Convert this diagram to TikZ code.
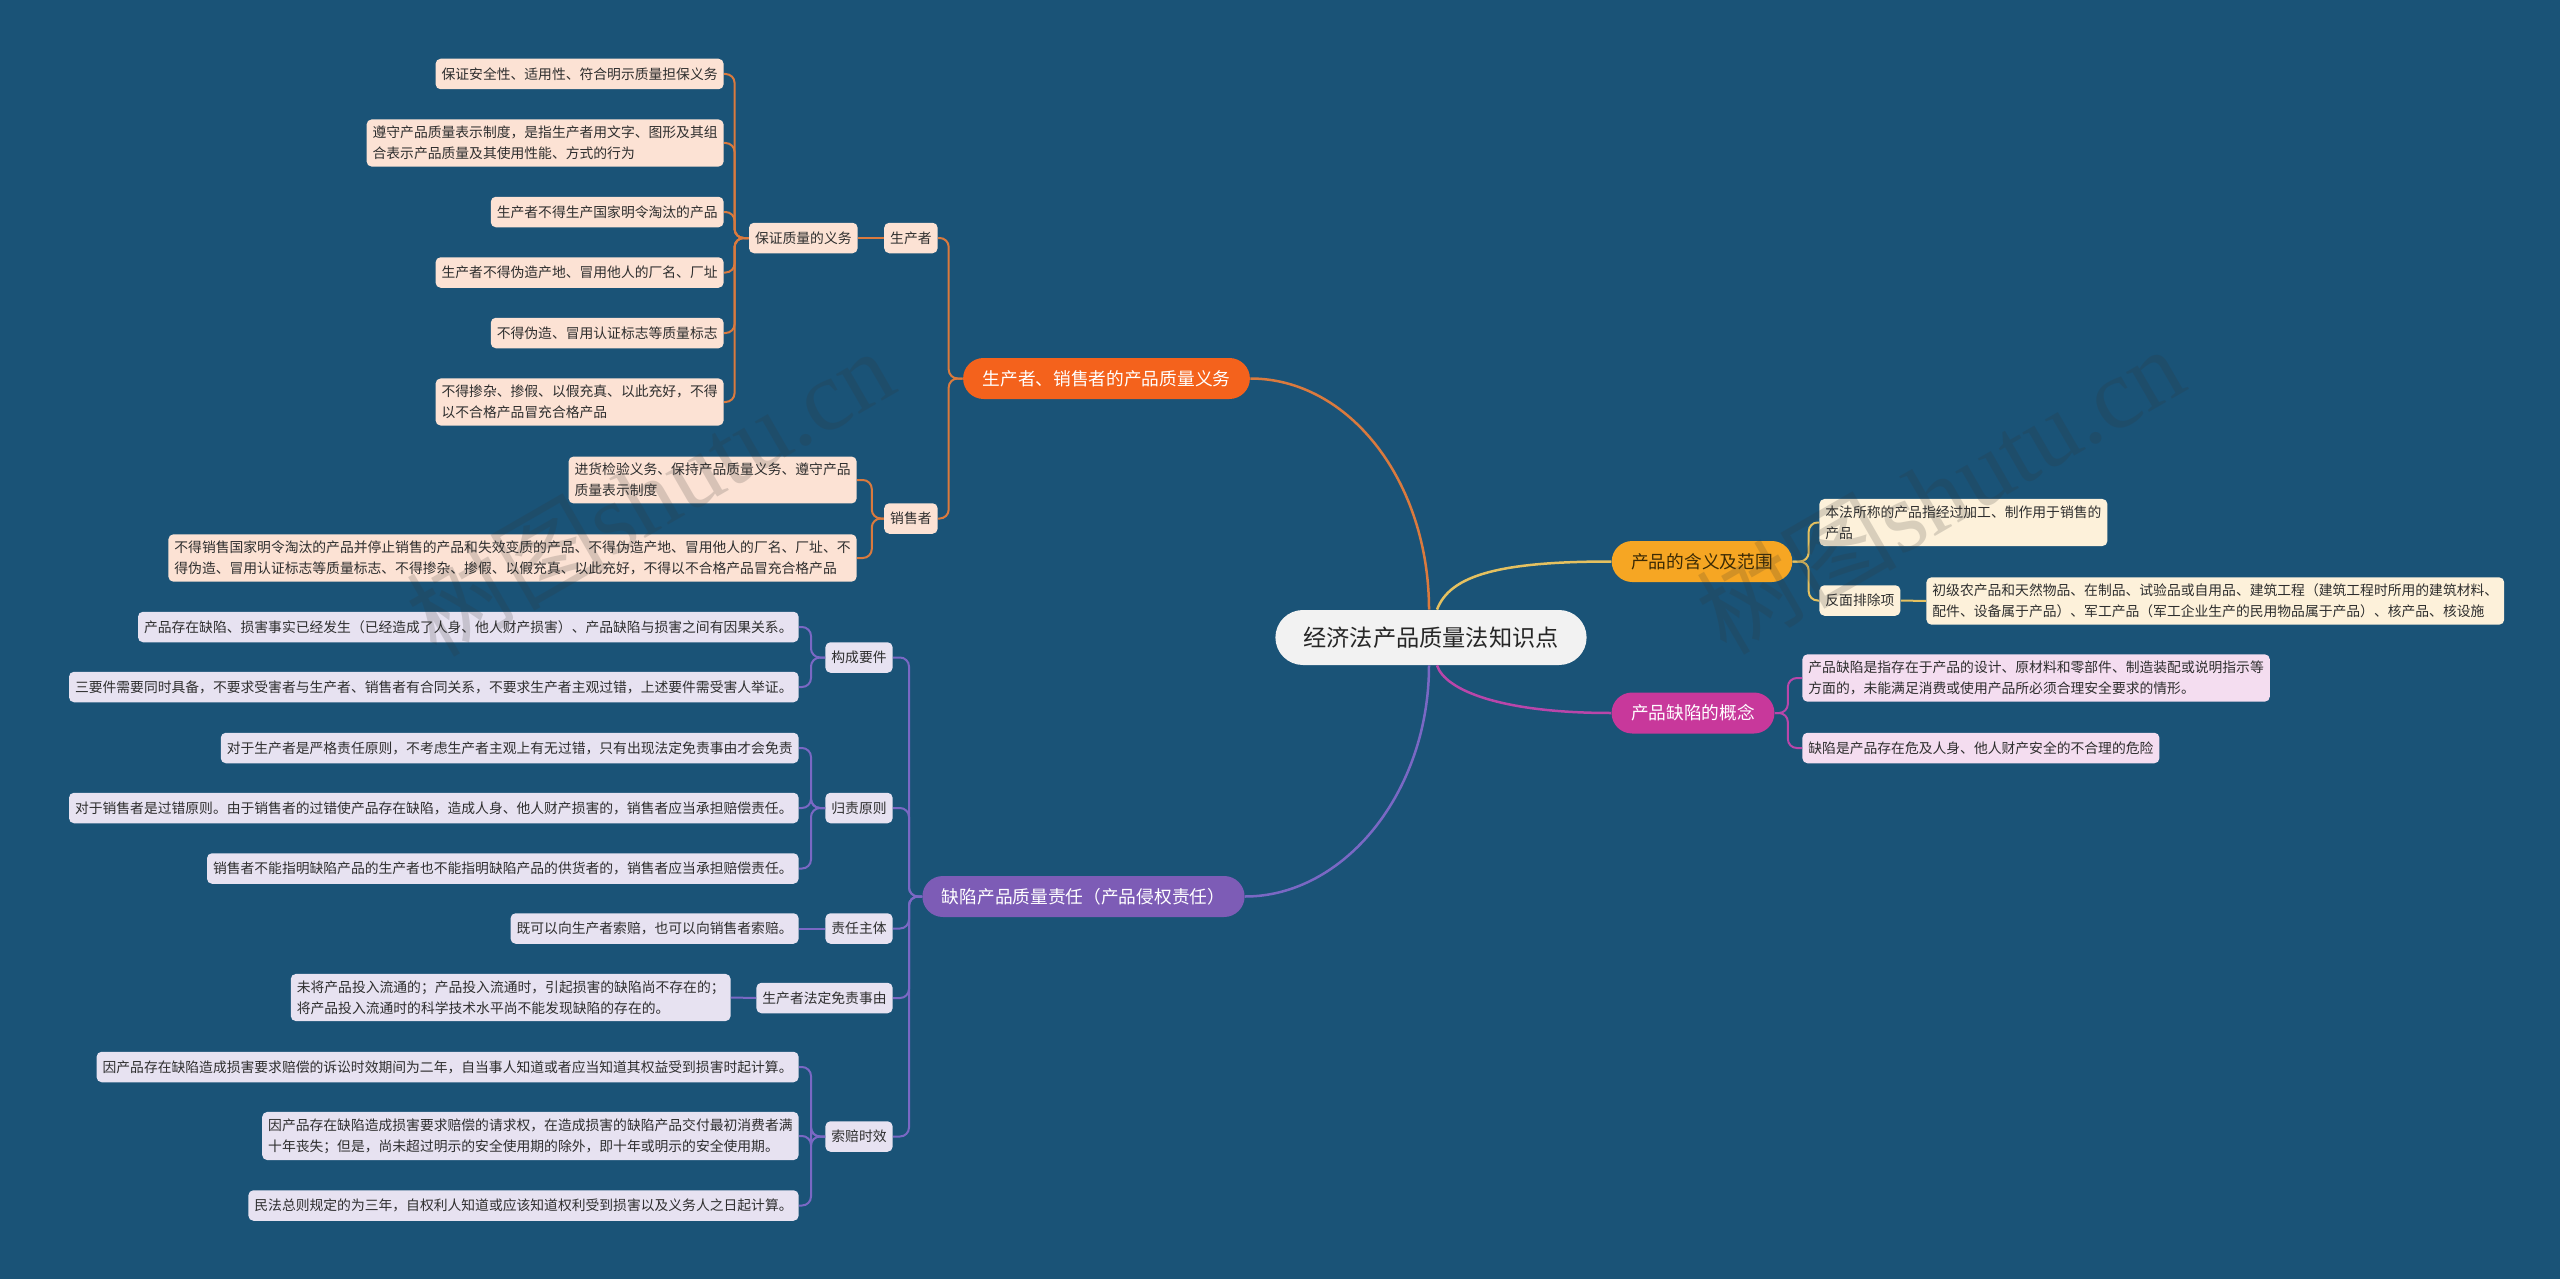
\documentclass[tikz,border=0pt]{standalone}
\usepackage{fontspec}
\setmainfont{Noto Sans CJK SC}
\newfontfamily\wmserif{Liberation Serif}
\usetikzlibrary{calc}
\definecolor{bg}{HTML}{1A5377}
\definecolor{orgfill}{HTML}{F4621C}
\definecolor{orgline}{HTML}{DA7A3E}
\definecolor{orgleaf}{HTML}{FCE2D4}
\definecolor{ylwfill}{HTML}{F6A623}
\definecolor{ylwline}{HTML}{E5C160}
\definecolor{ylwleaf}{HTML}{FDF1DA}
\definecolor{ylwtext}{HTML}{3A2A05}
\definecolor{magfill}{HTML}{C8389B}
\definecolor{magline}{HTML}{B946AA}
\definecolor{magleaf}{HTML}{F4DDF0}
\definecolor{purfill}{HTML}{7D5CB6}
\definecolor{purline}{HTML}{7A68C4}
\definecolor{purleaf}{HTML}{E7E2F1}
\definecolor{rootfill}{HTML}{F2F2F2}
\definecolor{leaftext}{HTML}{2E2E2E}
\begin{document}
\begin{tikzpicture}[x=0.5pt,y=-0.5pt,
  leaf/.style={rounded corners=2.5pt, inner xsep=3pt, inner ysep=3.4pt, minimum height=15.25pt,
    align=left, font=\fontsize{6.9}{10.3}\selectfont, text=leaftext},
  oleaf/.style={leaf, fill=orgleaf},
  yleaf/.style={leaf, fill=ylwleaf},
  mleaf/.style={leaf, fill=magleaf},
  pleaf/.style={leaf, fill=purleaf},
  branch/.style={rounded corners=10.25pt, minimum height=20.5pt, inner xsep=9.75pt,
    font=\fontsize{8.85}{10}\selectfont, text=white},
  rootnode/.style={rounded corners=13.75pt, minimum height=27.5pt, inner xsep=14pt,
    fill=rootfill, font=\fontsize{11.6}{13}\selectfont, text=black!85},
  conn/.style={line width=1pt, rounded corners=4.5pt},
  oconn/.style={conn, draw=orgline},
  yconn/.style={conn, draw=ylwline},
  mconn/.style={conn, draw=magline},
  pconn/.style={conn, draw=purline},
  mainline/.style={line width=1.25pt},
  wmark/.style={rotate=30, text=gray!40!black, opacity=0.18, font=\fontsize{50}{50}\selectfont}
]
\fill[bg] (0,0) rectangle (2560,1279);
\useasboundingbox (0,0) rectangle (2560,1279);

% root and branches
\node[rootnode] (root) at (1431,637.5) {经济法产品质量法知识点};
\node[branch, fill=orgfill] (B1) at (1106.5,378.5) {生产者、销售者的产品质量义务};
\node[branch, fill=ylwfill, text=ylwtext] (B2) at (1702,561.5) {产品的含义及范围};
\node[branch, fill=magfill] (B3) at (1693,713) {产品缺陷的概念};
\node[branch, fill=purfill] (B4) at (1083.5,896.5) {缺陷产品质量责任（产品侵权责任）};

% orange subtree
\node[oleaf, anchor=east] (sc) at (938,238) {生产者};
\node[oleaf, anchor=east] (bz) at (858,238) {保证质量的义务};
\node[oleaf, anchor=east] (xs) at (938,518.5) {销售者};
\node[oleaf, anchor=east] (L1) at (724,74) {保证安全性、适用性、符合明示质量担保义务};
\node[oleaf, anchor=east] (L2) at (724,143) {遵守产品质量表示制度，是指生产者用文字、图形及其组\\合表示产品质量及其使用性能、方式的行为};
\node[oleaf, anchor=east] (L3) at (724,212) {生产者不得生产国家明令淘汰的产品};
\node[oleaf, anchor=east] (L4) at (724,272.5) {生产者不得伪造产地、冒用他人的厂名、厂址};
\node[oleaf, anchor=east] (L5) at (724,333) {不得伪造、冒用认证标志等质量标志};
\node[oleaf, anchor=east] (L6) at (724,402) {不得掺杂、掺假、以假充真、以此充好，不得\\以不合格产品冒充合格产品};
\node[oleaf, anchor=east] (L7) at (857,480) {进货检验义务、保持产品质量义务、遵守产品\\质量表示制度};
\node[oleaf, anchor=east] (L8) at (857,558) {不得销售国家明令淘汰的产品并停止销售的产品和失效变质的产品、不得伪造产地、冒用他人的厂名、厂址、不\\得伪造、冒用认证标志等质量标志、不得掺杂、掺假、以假充真、以此充好，不得以不合格产品冒充合格产品};

% purple subtree
\node[pleaf, anchor=east] (gc) at (893,657.5) {构成要件};
\node[pleaf, anchor=east] (gz) at (893,808) {归责原则};
\node[pleaf, anchor=east] (zr) at (893,928.5) {责任主体};
\node[pleaf, anchor=east] (mz) at (893,998) {生产者法定免责事由};
\node[pleaf, anchor=east] (sp) at (893,1136.5) {索赔时效};
\node[pleaf, anchor=east] (P1) at (799,627) {产品存在缺陷、损害事实已经发生（已经造成了人身、他人财产损害）、产品缺陷与损害之间有因果关系。};
\node[pleaf, anchor=east] (P2) at (799,687) {三要件需要同时具备，不要求受害者与生产者、销售者有合同关系，不要求生产者主观过错，上述要件需受害人举证。};
\node[pleaf, anchor=east] (P3) at (799,748) {对于生产者是严格责任原则，不考虑生产者主观上有无过错，只有出现法定免责事由才会免责};
\node[pleaf, anchor=east] (P4) at (799,808) {对于销售者是过错原则。由于销售者的过错使产品存在缺陷，造成人身、他人财产损害的，销售者应当承担赔偿责任。};
\node[pleaf, anchor=east] (P5) at (799,868.5) {销售者不能指明缺陷产品的生产者也不能指明缺陷产品的供货者的，销售者应当承担赔偿责任。};
\node[pleaf, anchor=east] (P6) at (799,928.5) {既可以向生产者索赔，也可以向销售者索赔。};
\node[pleaf, anchor=east] (P7) at (731,997.5) {未将产品投入流通的；产品投入流通时，引起损害的缺陷尚不存在的；\\将产品投入流通时的科学技术水平尚不能发现缺陷的存在的。};
\node[pleaf, anchor=east] (P8) at (799,1067) {因产品存在缺陷造成损害要求赔偿的诉讼时效期间为二年，自当事人知道或者应当知道其权益受到损害时起计算。};
\node[pleaf, anchor=east] (P9) at (799,1136) {因产品存在缺陷造成损害要求赔偿的请求权，在造成损害的缺陷产品交付最初消费者满\\十年丧失；但是，尚未超过明示的安全使用期的除外，即十年或明示的安全使用期。};
\node[pleaf, anchor=east] (P10) at (799,1205.5) {民法总则规定的为三年，自权利人知道或应该知道权利受到损害以及义务人之日起计算。};

% right side
\node[yleaf, anchor=west] (R1) at (1819,522.5) {本法所称的产品指经过加工、制作用于销售的\\产品};
\node[yleaf, anchor=west] (fm) at (1819,600.5) {反面排除项};
\node[yleaf, anchor=west] (R2) at (1926,601) {初级农产品和天然物品、在制品、试验品或自用品、建筑工程（建筑工程时所用的建筑材料、\\配件、设备属于产品）、军工产品（军工企业生产的民用物品属于产品）、核产品、核设施};
\node[mleaf, anchor=west] (R3) at (1802,678) {产品缺陷是指存在于产品的设计、原材料和零部件、制造装配或说明指示等\\方面的，未能满足消费或使用产品所必须合理安全要求的情形。};
\node[mleaf, anchor=west] (R4) at (1802,748) {缺陷是产品存在危及人身、他人财产安全的不合理的危险};

% main curves
\draw[mainline, orgline] (B1.east) .. controls +(99,0) and +(0,-128) .. ($(root.north)+(-2,0)$);
\draw[mainline, ylwline] ($(root.north)+(6,0)$) .. controls (1450,575) and (1500,561.5) .. (B2.west);
\draw[mainline, magline] ($(root.south)+(6,0)$) .. controls (1445,690) and (1500,713) .. (B3.west);
\draw[mainline, purline] ($(root.south)+(-2,0)$) .. controls +(0,127) and +(99,0) .. (B4.east);

% orange connectors
\foreach \n in {sc,xs} \draw[oconn] (B1.west) -- ++(-14,0) |- (\n.east);
\draw[oconn] (sc.west) -- (bz.east);
\foreach \n in {L1,L2,L3,L4,L5,L6} \draw[oconn] (bz.west) -- ++(-14,0) |- (\n.east);
\foreach \n in {L7,L8} \draw[oconn] (xs.west) -- ++(-12,0) |- (\n.east);

% purple connectors
\foreach \n in {gc,gz,zr,mz,sp} \draw[pconn] (B4.west) -- ++(-13,0) |- (\n.east);
\foreach \n in {P1,P2} \draw[pconn] (gc.west) -- ++(-14,0) |- (\n.east);
\foreach \n in {P3,P4,P5} \draw[pconn] (gz.west) -- ++(-14,0) |- (\n.east);
\draw[pconn] (zr.west) -- (P6.east);
\draw[pconn] (mz.west) -- (P7.east);
\foreach \n in {P8,P9,P10} \draw[pconn] (sp.west) -- ++(-14,0) |- (\n.east);

% right connectors
\foreach \n in {R1,fm} \draw[yconn] (B2.east) -- ++(16,0) |- (\n.west);
\draw[yconn] (fm.east) -- (R2.west);
\foreach \n in {R3,R4} \draw[mconn] (B3.east) -- ++(13,0) |- (\n.west);

% watermarks
\node[wmark] (wm1) at (650,492) {树图{\wmserif shutu.cn}};
\node[wmark] (wm2) at (1940,490) {树图{\wmserif shutu.cn}};
\end{tikzpicture}
\end{document}
